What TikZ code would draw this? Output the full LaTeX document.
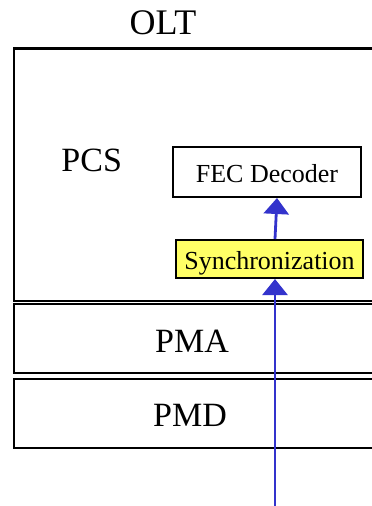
\documentclass[tikz,border=0pt]{standalone}
\usepackage{fontspec}
\setmainfont{Liberation Serif}
\usetikzlibrary{arrows.meta}
\definecolor{syncyellow}{RGB}{255,255,102}
\definecolor{flowblue}{RGB}{51,51,204}

\begin{document}
\begin{tikzpicture}[x=1pt,y=-1pt,
  layer/.style={draw,line width=2.2pt},
  big/.style={inner sep=0pt,font=\fontsize{34}{40}\selectfont},
  blk/.style={draw,line width=2pt,inner sep=0pt,text height=21pt,text depth=0pt,
    font=\fontsize{26}{30}\selectfont},
  flow/.style={draw=flowblue,line width=2.8pt,-{Triangle[width=25pt,length=16pt]}}]
  \useasboundingbox (0,0) rectangle (372,506);
  % stacked sublayers, running off the right edge
  \draw[layer] (400,48.5) -- (13.8,48.5) -- (13.8,301) -- (400,301);
  \draw[layer] (400,304) -- (13.8,304) -- (13.8,373) -- (400,373);
  \draw[layer] (400,379) -- (13.8,379) -- (13.8,448.3) -- (400,448.3);
  \node[big,font=\fontsize{36}{40}\selectfont] (olt) at (163,22.7) {OLT};
  \node[big] (pcs) at (91.7,160) {PCS};
  \node[big] (pma) at (192,341) {PMA};
  \node[big] (pmd) at (190,415) {PMD};
  % blocks inside the PCS
  \node[blk,minimum width=188pt,minimum height=50pt] (fec) at (267,172) {FEC Decoder};
  \node[blk,fill=syncyellow,minimum width=187pt,minimum height=38pt] (sync) at (269.5,259) {Synchronization};
  % receive path
  \coordinate (rx) at (275,506);
  \draw[flow] (rx) -- ([xshift=5.5pt]sync.south);
  \draw[flow] ([xshift=5.5pt]sync.north) -- ([xshift=10pt]fec.south);
\end{tikzpicture}
\end{document}
